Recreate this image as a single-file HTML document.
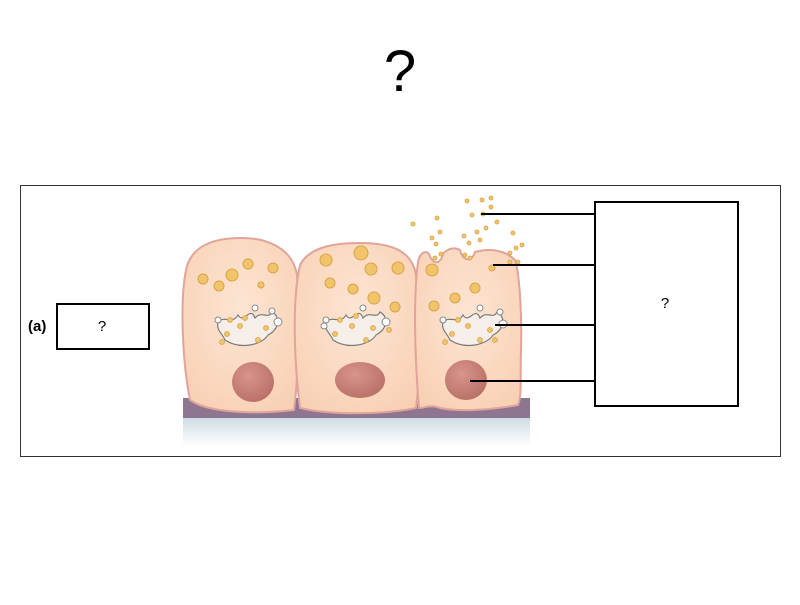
<!DOCTYPE html>
<html><head><style>
body{margin:0;background:#fff;width:800px;height:600px;overflow:hidden;font-family:"Liberation Sans",sans-serif}
</style></head><body>
<svg width="800" height="600" xmlns="http://www.w3.org/2000/svg">
<defs>
<linearGradient id="sh" x1="0" y1="0" x2="0" y2="1"><stop offset="0" stop-color="#cfdbe3"/><stop offset="1" stop-color="#fff"/></linearGradient>
<radialGradient id="nu" cx="0.4" cy="0.35" r="0.7"><stop offset="0" stop-color="#d9958a"/><stop offset="1" stop-color="#b86f66"/></radialGradient>
<radialGradient id="ce" cx="0.5" cy="0.4" r="0.7"><stop offset="0" stop-color="#fde5d2"/><stop offset="1" stop-color="#f8d0b4"/></radialGradient>
</defs>
<text x="400" y="91" font-size="58" text-anchor="middle" font-family="Liberation Sans">?</text>
<rect x="20.5" y="185.5" width="760" height="271" fill="none" stroke="#333" stroke-width="1"/>
<rect x="183" y="418" width="347" height="28" fill="url(#sh)"/>
<rect x="183" y="398" width="347" height="20" fill="#8e7590"/>
<path d="M190,400 C182,360 180,300 186,270 C192,240 225,238 242,238 C262,238 292,245 297,275 C300,320 298,380 294,410 C260,414 210,414 190,400Z" fill="url(#ce)" stroke="#e0a49a" stroke-width="2"/>
<path d="M300,408 C294,360 292,300 300,265 C310,245 340,243 360,243 C390,243 412,250 416,275 C420,320 420,380 416,408 C380,415 330,415 300,408Z" fill="url(#ce)" stroke="#e0a49a" stroke-width="2"/>
<path d="M419,408 C415,360 413,300 418,262 C420,252 426,250 429,254 C433,265 440,265 443,254 C448,248 455,247 460,250 C463,262 472,262 475,252 C490,248 505,250 515,260 C520,275 522,320 521,350 C520,380 522,395 518,405 C490,410 460,412 440,408 C430,404 425,408 419,408Z" fill="url(#ce)" stroke="#e0a49a" stroke-width="2"/>
<g fill="none" stroke="#7a7a7a" stroke-width="1.2">
<path d="M218,322 C225,315 232,325 238,315 C244,325 250,305 255,318 C262,310 268,320 272,312 C282,318 278,330 268,335 C262,345 240,350 225,340 C222,333 216,330 218,322Z" fill="#f6eee8"/>
<path d="M326,322 C333,315 340,325 346,315 C352,325 358,305 363,318 C370,310 376,320 380,312 C390,318 386,330 376,335 C370,345 348,350 333,340 C330,333 324,330 326,322Z" fill="#f6eee8"/>
<path d="M443,322 C450,315 457,325 463,315 C469,325 475,305 480,318 C487,310 493,320 497,312 C507,318 503,330 493,335 C487,345 465,350 450,340 C447,333 441,330 443,322Z" fill="#f6eee8"/>
</g>
<g fill="#fff" stroke="#888" stroke-width="1">
<circle cx="218" cy="320" r="3"/><circle cx="255" cy="308" r="3"/><circle cx="278" cy="322" r="4"/><circle cx="272" cy="311" r="3"/>
<circle cx="326" cy="320" r="3"/><circle cx="363" cy="308" r="3"/><circle cx="386" cy="322" r="4"/><circle cx="324" cy="326" r="3"/>
<circle cx="443" cy="320" r="3"/><circle cx="480" cy="308" r="3"/><circle cx="503" cy="324" r="4"/><circle cx="500" cy="312" r="3"/>
</g>
<g fill="#f2c46a" stroke="#d9a24a" stroke-width="1">
<circle cx="203" cy="279" r="5"/><circle cx="219" cy="286" r="5"/><circle cx="232" cy="275" r="6"/><circle cx="248" cy="264" r="5"/><circle cx="273" cy="268" r="5"/><circle cx="261" cy="285" r="3"/>
<circle cx="326" cy="260" r="6"/><circle cx="361" cy="253" r="7"/><circle cx="371" cy="269" r="6"/><circle cx="398" cy="268" r="6"/><circle cx="330" cy="283" r="5"/><circle cx="353" cy="289" r="5"/><circle cx="374" cy="298" r="6"/><circle cx="395" cy="307" r="5"/>
<circle cx="432" cy="270" r="6"/><circle cx="455" cy="298" r="5"/><circle cx="475" cy="288" r="5"/><circle cx="434" cy="306" r="5"/><circle cx="492" cy="268" r="3"/>
</g>
<g fill="#f2c46a" stroke="#d9a24a" stroke-width="0.8">
<circle cx="230" cy="320" r="2.5"/><circle cx="240" cy="326" r="2.5"/><circle cx="266" cy="328" r="2.5"/><circle cx="227" cy="334" r="2.5"/><circle cx="258" cy="340" r="2.5"/><circle cx="222" cy="342" r="2.5"/><circle cx="245" cy="318" r="2.5"/>
<circle cx="340" cy="320" r="2.5"/><circle cx="352" cy="326" r="2.5"/><circle cx="373" cy="328" r="2.5"/><circle cx="335" cy="334" r="2.5"/><circle cx="366" cy="340" r="2.5"/><circle cx="389" cy="330" r="2.5"/><circle cx="356" cy="316" r="2.5"/>
<circle cx="458" cy="320" r="2.5"/><circle cx="468" cy="326" r="2.5"/><circle cx="490" cy="330" r="2.5"/><circle cx="452" cy="334" r="2.5"/><circle cx="480" cy="340" r="2.5"/><circle cx="445" cy="342" r="2.5"/><circle cx="495" cy="340" r="2.5"/>
<circle cx="435" cy="258" r="2"/><circle cx="441" cy="254" r="2"/><circle cx="465" cy="255" r="2"/><circle cx="470" cy="258" r="2"/><circle cx="413" cy="224" r="2"/><circle cx="437" cy="218" r="2"/><circle cx="432" cy="238" r="2"/><circle cx="440" cy="232" r="2"/><circle cx="436" cy="244" r="2"/><circle cx="467" cy="201" r="2"/><circle cx="482" cy="200" r="2"/><circle cx="491" cy="198" r="2"/><circle cx="472" cy="215" r="2"/><circle cx="483" cy="214" r="2"/><circle cx="491" cy="207" r="2"/><circle cx="477" cy="232" r="2"/><circle cx="464" cy="236" r="2"/><circle cx="469" cy="243" r="2"/><circle cx="480" cy="240" r="2"/><circle cx="486" cy="228" r="2"/><circle cx="513" cy="233" r="2"/><circle cx="516" cy="248" r="2"/><circle cx="522" cy="245" r="2"/><circle cx="510" cy="253" r="2"/><circle cx="510" cy="262" r="2"/><circle cx="518" cy="262" r="2"/><circle cx="497" cy="222" r="2"/>
</g>
<ellipse cx="253" cy="382" rx="21" ry="20" fill="url(#nu)"/>
<ellipse cx="360" cy="380" rx="25" ry="18" fill="url(#nu)"/>
<ellipse cx="466" cy="380" rx="21" ry="20" fill="url(#nu)"/>
<g stroke="#000" stroke-width="2">
<line x1="481" y1="214" x2="595" y2="214"/><line x1="493" y1="265" x2="595" y2="265"/><line x1="495" y1="325" x2="595" y2="325"/><line x1="470" y1="381" x2="595" y2="381"/>
</g>
<rect x="595" y="202" width="143" height="204" fill="#fff" stroke="#000" stroke-width="2"/>
<text x="665" y="308" font-size="15" text-anchor="middle">?</text>
<rect x="57" y="304" width="92" height="45" fill="#fff" stroke="#000" stroke-width="2"/>
<text x="102" y="331" font-size="15" text-anchor="middle">?</text>
<text x="28" y="331" font-size="15" font-weight="bold">(a)</text>
</svg>
</body></html>
